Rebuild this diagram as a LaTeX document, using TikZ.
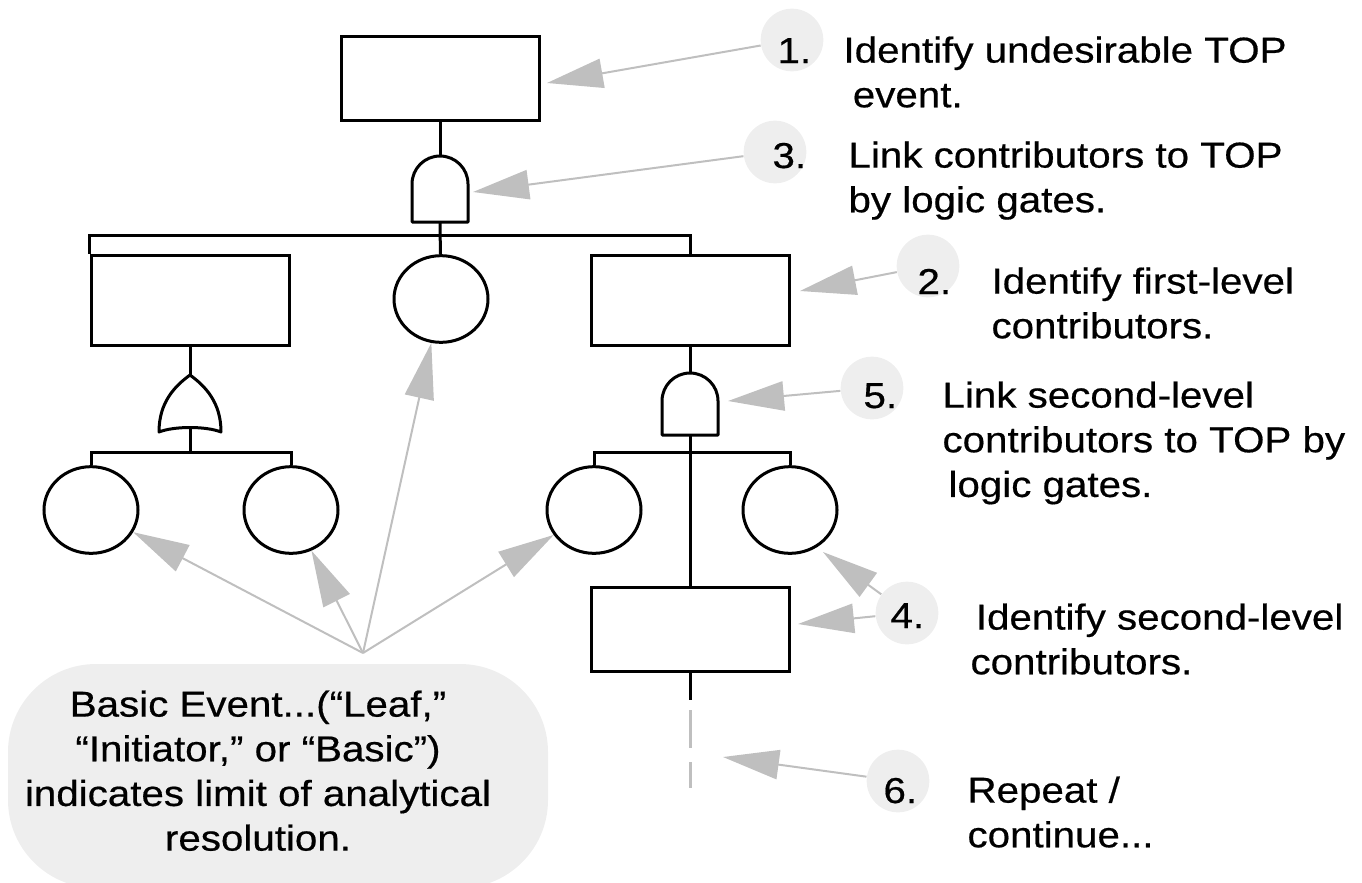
\documentclass[tikz,border=0pt]{standalone}
\usepackage{fontspec}
\setmainfont{Liberation Sans}[FakeStretch=1.12,FakeBold=0.5]
\usepackage{tikz}
\usetikzlibrary{
  shapes.geometric,
  arrows.meta,
  positioning
}
\definecolor{callgray}{RGB}{191,191,191}
\definecolor{dotgray}{RGB}{238,238,238}
\tikzset{every picture/.style={line width=0.75pt}}

\begin{document}
\begin{tikzpicture}[x=0.75pt,y=0.75pt,yscale=-1,xscale=1,
  event/.style={draw, line width=2.25pt, rectangle, minimum width=148.5pt, minimum height=63pt, inner sep=0pt},
  basic/.style={draw, line width=2.25pt, ellipse, minimum width=70.5pt, minimum height=65pt, inner sep=0pt},
  tree/.style={line width=2.25pt},
  gate/.style={line width=2.25pt, line join=round},
  dashgray/.style={draw=callgray, line width=2.25pt, dash pattern=on 28.5pt off 10.5pt},
  numdot/.style={circle, fill=dotgray, minimum size=47pt, inner sep=0pt},
  numtxt/.style={anchor=base west, inner sep=0pt, font=\fontsize{27}{33.5}\selectfont},
  steptxt/.style={anchor=north west, inner sep=0pt, align=left, font=\fontsize{27}{33.5}\selectfont},
  callout/.style={color=callgray, line width=1.5pt, -{Triangle[length=42pt,width=22pt]}}
]
\useasboundingbox (0,0) rectangle (1362,882);

%Shape: Rounded Rect [id:basic bubble]
\fill [dotgray, rounded corners=66pt] (8,664) rectangle (548,888) ;

%Events
\node [event] (topev) at (440,78) {};
\node [event, minimum height=67.5pt] (lev) at (190,300) {};
\node [basic] (midb) at (441,299) {};
\node [event, minimum height=67.5pt] (rev) at (690,300) {};
\node [basic] (b1) at (91,510) {};
\node [basic] (b2) at (291,510) {};
\node [basic] (b3) at (594,510) {};
\node [basic] (b4) at (790,510) {};
\node [event] (lowev) at (690,629) {};

%Shape: And Gate [id:g1]
\draw [gate] (412,222) -- (412,184) arc [start angle=180, end angle=360, radius=28] -- (468,222) -- cycle ;
\coordinate (g1in) at (440,156);
\coordinate (g1out) at (440,222);
%Shape: Or Gate [id:g2]
\draw [gate] (159,432) .. controls (159,402) and (175,386) .. (190,375) .. controls (205,386) and (221,402) .. (221,432) .. controls (206,426) and (174,426) .. (159,432) -- cycle ;
\coordinate (g2in) at (190,375);
\coordinate (g2out) at (190,428);
%Shape: And Gate [id:g3]
\draw [gate] (662,435) -- (662,401) arc [start angle=180, end angle=360, radius=28] -- (718,435) -- cycle ;
\coordinate (g3in) at (690,373);
\coordinate (g3out) at (690,435);

%Tree lines
\coordinate (bar1) at (440,235);
\coordinate (bar2) at (190,452);
\coordinate (bar3) at (690,452);
\draw [tree] (topev) -- (g1in) ;
\draw [tree] (g1out) -- (midb) ;
\draw [tree] (lev.north west) |- (bar1) -| (rev) ;
\draw [tree] (lev) -- (g2in) ;
\draw [tree] (g2out) -- (bar2) ;
\draw [tree] (b1) |- (bar2) -| (b2) ;
\draw [tree] (rev) -- (g3in) ;
\draw [tree] (g3out) -- (lowev) ;
\draw [tree] (b3) |- (bar3) -| (b4) ;
\coordinate (cont) at (690,700);
\draw [tree] (lowev) -- (cont) ;
\coordinate (dash1) at (690,710);
\coordinate (dash2) at (690,788);
\draw [dashgray] (dash1) -- (dash2) ;

%Step dots
\node [numdot] (n1) at (792,40) {};
\node [numdot] (n3) at (775,152) {};
\node [numdot] (n2) at (928,266) {};
\node [numdot] (n5) at (872,388) {};
\node [numdot] (n4) at (907,613) {};
\node [numdot] (n6) at (898,781) {};

%Callout arrows
\coordinate (p1) at (547,83);
\coordinate (p3) at (473,192);
\coordinate (p2) at (800,291);
\coordinate (p5) at (728,401);
\coordinate (p4a) at (823,552);
\coordinate (p4b) at (798,624);
\coordinate (p6) at (723,757);
\coordinate (bsrc) at (363,653);
\draw [callout] (n1) -- (p1) ;
\draw [callout] (n3) -- (p3) ;
\draw [callout] (n2) -- (p2) ;
\draw [callout] (n5) -- (p5) ;
\draw [callout] (n4) -- (p4a) ;
\draw [callout] (n4) -- (p4b) ;
\draw [callout] (n6) -- (p6) ;
\draw [callout] (bsrc) -- (b1) ;
\draw [callout] (bsrc) -- (b2) ;
\draw [callout] (bsrc) -- (midb) ;
\draw [callout] (bsrc) -- (b3) ;

% Text Node
\node [numtxt] (l1) at (777,63) {1.};
\node [steptxt] (s1) at (843,36) {Identify undesirable TOP\\\hspace*{7pt}event.};
% Text Node
\node [numtxt] (l3) at (772,168) {3.};
\node [steptxt] (s3) at (848,141) {Link contributors to TOP\\by logic gates.};
% Text Node
\node [numtxt] (l2) at (917,294) {2.};
\node [steptxt] (s2) at (991,267) {Identify first-level\\contributors.};
% Text Node
\node [numtxt] (l5) at (863,408) {5.};
\node [steptxt] (s5) at (942,381) {Link second-level\\contributors to TOP by\\\hspace*{4.5pt}logic gates.};
% Text Node
\node [numtxt] (l4) at (890,628) {4.};
\node [steptxt] (s4) at (970,603) {\hspace*{4pt}Identify second-level\\contributors.};
% Text Node
\node [numtxt] (l6) at (883,803) {6.};
\node [steptxt] (s6) at (967,776) {Repeat /\\continue...};
% Text Node
\node [steptxt, anchor=north, align=center] (bmsg) at (258,690) {Basic Event...(“Leaf,”\\“Initiator,” or “Basic”)\\indicates limit of analytical\\resolution.};

\end{tikzpicture}
\end{document}
